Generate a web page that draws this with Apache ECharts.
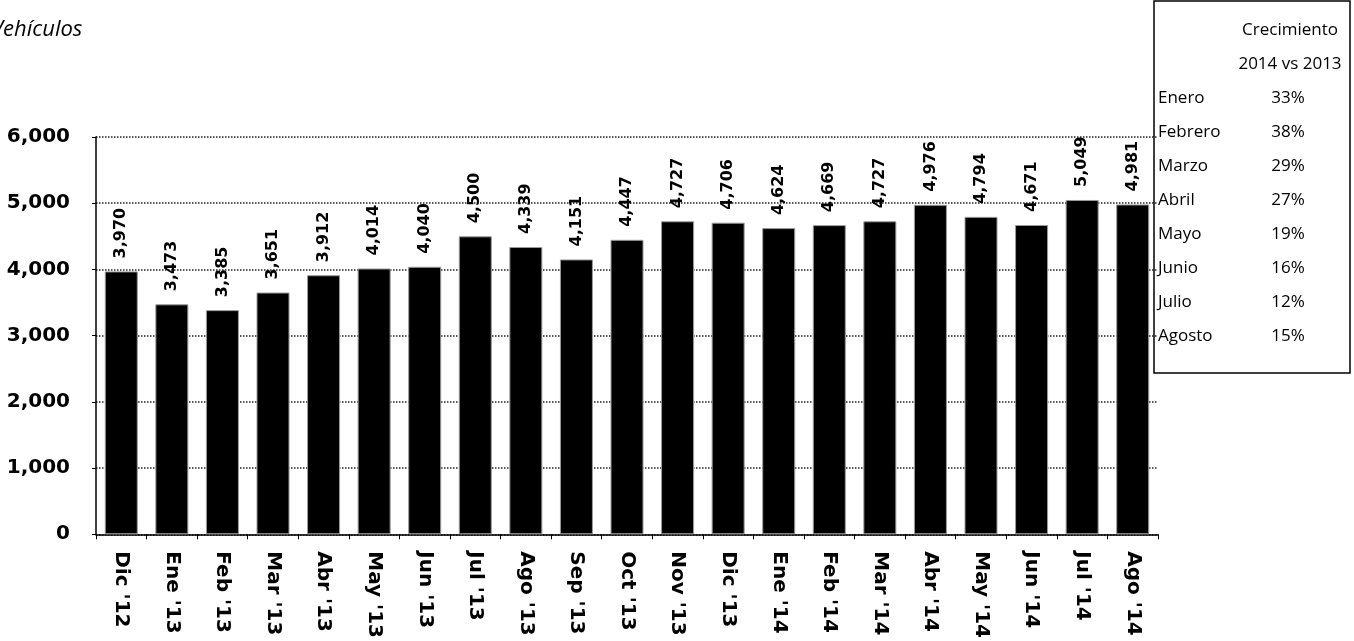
<!DOCTYPE html>
<html>
<head>
<meta charset="utf-8">
<script src="https://cdn.jsdelivr.net/npm/echarts@6/dist/echarts.min.js"></script>
<style>
html,body{margin:0;padding:0;background:#fff;}
#chart{width:1354px;height:641px;}
</style>
</head>
<body>
<div id="chart"></div>
<script>
var categories = ["Dic '12","Ene '13","Feb '13","Mar '13","Abr '13","May '13","Jun '13","Jul '13","Ago '13","Sep '13","Oct '13","Nov '13","Dic '13","Ene '14","Feb '14","Mar '14","Abr '14","May '14","Jun '14","Jul '14","Ago '14"];
var vehiculos = [3970,3473,3385,3651,3912,4014,4040,4500,4339,4151,4447,4727,4706,4624,4669,4727,4976,4794,4671,5049,4981];
var tableMonths = ["Enero","Febrero","Marzo","Abril","Mayo","Junio","Julio","Agosto"];
var tableGrowth = ["33%","38%","29%","27%","19%","16%","12%","15%"];
var tableHeader = ["Crecimiento","2014 vs 2013"];

var chart = echarts.init(document.getElementById('chart'));
var fmt = function(v){ return v.toLocaleString('en-US'); };

var graphics = [
  {type:'text', x:-9, y:30, style:{text:'Vehículos', font:'italic 22px "Open Sans"', fill:'#000', verticalAlign:'middle'}},
  {type:'rect', shape:{x:1154, y:1, width:196, height:372}, style:{fill:'none', stroke:'#000', lineWidth:1.5}}
];
var rowY0 = 30, rowStep = 34;
tableHeader.forEach(function(h,i){
  graphics.push({type:'text', x:1290, y:rowY0 + i*rowStep, style:{text:h, font:'17px "Open Sans"', fill:'#000', align:'center', verticalAlign:'middle'}});
});
tableMonths.forEach(function(m,i){
  var y = rowY0 + (i+2)*rowStep;
  graphics.push({type:'text', x:1158, y:y, style:{text:m, font:'17px "Open Sans"', fill:'#000', align:'left', verticalAlign:'middle'}});
  graphics.push({type:'text', x:1288, y:y, style:{text:tableGrowth[i], font:'17px "Open Sans"', fill:'#000', align:'center', verticalAlign:'middle'}});
});

chart.setOption({
  animation:false,
  backgroundColor:'#fff',
  grid:{left:96, right:196, top:137, bottom:106},
  xAxis:{
    type:'category', data:categories, boundaryGap:true,
    axisLine:{show:true, lineStyle:{color:'#000', width:1.5}},
    axisTick:{show:true, alignWithLabel:false, length:5, lineStyle:{color:'#000'}},
    axisLabel:{rotate:-90, margin:17, color:'#000', fontSize:20, fontWeight:'bold', fontFamily:'DejaVu Sans', interval:0}
  },
  yAxis:{
    type:'value', min:0, max:6000, interval:1000,
    axisLine:{show:true, lineStyle:{color:'#000', width:1.5}},
    axisTick:{show:true, length:4, lineStyle:{color:'#000'}},
    axisLabel:{margin:26, color:'#000', fontSize:20, fontWeight:'bold', fontFamily:'DejaVu Sans', formatter:function(v){return fmt(v);}},
    splitLine:{show:true, lineStyle:{type:'dotted', color:'#222', width:1.5}}
  },
  series:[{
    type:'bar', data:vehiculos, barWidth:33,
    itemStyle:{color:'#000', borderColor:'#9a9a9a', borderWidth:1},
    label:{show:true, position:'top', rotate:90, align:'left', verticalAlign:'middle', distance:13,
      formatter:function(p){return fmt(p.value);}, color:'#000', fontSize:16, fontWeight:'bold', fontFamily:'DejaVu Sans'}
  }],
  graphic:graphics
});
</script>
</body>
</html>
